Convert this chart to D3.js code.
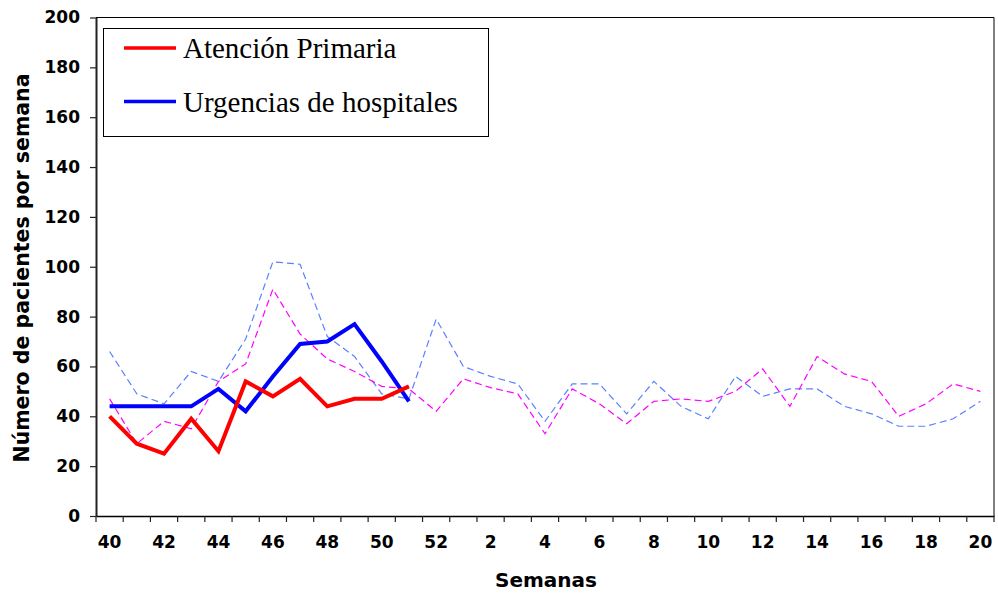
<!DOCTYPE html>
<html><head><meta charset="utf-8">
<script src="https://cdn.jsdelivr.net/npm/d3@7"></script>
<style>body{margin:0;background:#fff}svg{display:block}</style>
</head><body>
<svg id="c" width="998" height="594"></svg>
<script>
const weeks = [40,41,42,43,44,45,46,47,48,49,50,51,52,1,2,3,4,5,6,7,8,9,10,11,12,13,14,15,16,17,18,19,20];
const atencionPrimaria = [40,29,25,39,26,54,48,55,44,47,47,52];
const urgenciasHospitales = [44,44,44,44,51,42,56,69,70,77,62,46];
const prevUrgencias = [66,49,45,58,54,71,102,101,72,64,49,47,79,60,56,53,38,53,53,41,54,44,39,56,48,51,51,44,41,36,36,39,46];
const prevPrimaria = [47,29,38,35,54,61,91,73,63,58,52,51,42,55,51.5,49,33,51,45,37,46,47,46,50,59,44,64,57,54,40,45,53,50];
const yTicks = [0,20,40,60,80,100,120,140,160,180,200];
const legendLabels = ["Atención Primaria","Urgencias de hospitales"];

const svg = d3.select("#c");
const L=96, R=994, T=17.5, B=516;
const x = d3.scaleBand().domain(weeks.map(String)).range([L,R]);
const y = d3.scaleLinear().domain([0,200]).range([B,T]);
const cx = w => x(String(w)) + x.bandwidth()/2;

// plot frame (top & right)
svg.append("path").attr("d",`M${L},${T}H${R}V${B}`).attr("fill","none").attr("stroke","#000").attr("stroke-width",1);

// y axis
const yAx = svg.append("g").attr("transform",`translate(${L},0)`)
  .call(d3.axisLeft(y).tickValues(yTicks).tickSize(6).tickSizeOuter(0).tickPadding(10));
yAx.select(".domain").attr("stroke","#222").attr("stroke-width",2);
yAx.selectAll(".tick line").attr("stroke","#222").attr("stroke-width",1.2);
yAx.selectAll("text").attr("font-family","DejaVu Sans").attr("font-weight","bold").attr("font-size","17px").attr("fill","#000");

// x axis with ticks between categories
const xAx = svg.append("g").attr("transform",`translate(0,${B})`)
  .call(d3.axisBottom(x).tickValues(weeks.filter((w,i)=>i%2===0).map(String)).tickSize(0).tickPadding(20));
xAx.select(".domain").attr("stroke","#000").attr("stroke-width",1.5);
xAx.selectAll("text").attr("font-family","DejaVu Sans").attr("font-weight","bold").attr("font-size","17px").attr("fill","#000");
const bounds = weeks.map(w=>x(String(w))).concat([R]);
svg.append("g").selectAll("line").data(bounds).join("line")
  .attr("x1",d=>d).attr("x2",d=>d).attr("y1",B).attr("y2",B+6).attr("stroke","#222").attr("stroke-width",1.2);

// lines
const line = d3.line().x((d,i)=>cx(weeks[i])).y(d=>y(d));
svg.append("path").datum(prevUrgencias).attr("d",line).attr("fill","none").attr("stroke","#5b80ff").attr("stroke-width",1.2).attr("stroke-dasharray","7,4");
svg.append("path").datum(prevPrimaria).attr("d",line).attr("fill","none").attr("stroke","#ff00ff").attr("stroke-width",1.2).attr("stroke-dasharray","7,4");
svg.append("path").datum(urgenciasHospitales).attr("d",line).attr("fill","none").attr("stroke","#0000ff").attr("stroke-width",4).attr("stroke-linejoin","miter");
svg.append("path").datum(atencionPrimaria).attr("d",line).attr("fill","none").attr("stroke","#ff0000").attr("stroke-width",4).attr("stroke-linejoin","miter");

// legend
const lg = svg.append("g");
lg.append("rect").attr("x",103.5).attr("y",28.5).attr("width",385).attr("height",108).attr("fill","#fff").attr("stroke","#000").attr("stroke-width",1);
const lc = ["#ff0000","#0000ff"];
legendLabels.forEach((t,i)=>{
  const yy = 48 + i*53.5;
  lg.append("line").attr("x1",124).attr("x2",176).attr("y1",yy).attr("y2",yy).attr("stroke",lc[i]).attr("stroke-width",3.5);
  lg.append("text").attr("x",183).attr("y",yy+10).text(t).attr("font-family","Liberation Serif").attr("font-size","29px").attr("fill","#000");
});

// titles
svg.append("text").attr("x",546).attr("y",587).attr("text-anchor","middle").text("Semanas")
  .attr("font-family","DejaVu Sans").attr("font-weight","bold").attr("font-size","20px");
svg.append("text").attr("transform","translate(29,268) rotate(-90)").attr("text-anchor","middle").text("Número de pacientes por semana")
  .attr("font-family","DejaVu Sans").attr("font-weight","bold").attr("font-size","20.5px");
</script>
</body></html>
